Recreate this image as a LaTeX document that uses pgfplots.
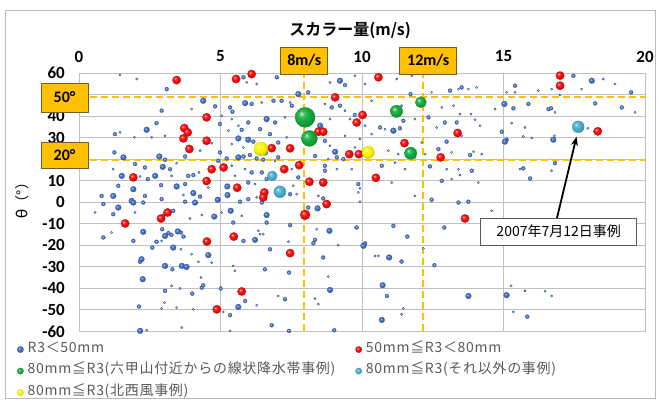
\documentclass[border=0pt]{standalone}
\usepackage{pgfplots}
\pgfplotsset{compat=1.18}
\usepackage{pgfplotstable}
\usetikzlibrary{arrows.meta}
\usepackage{fontspec}
\setmainfont{Carlito}
\newfontfamily\jp{Noto Sans CJK JP}[BoldFont={Noto Sans CJK JP Bold}]
\newfontfamily\jpleg{Noto Sans CJK JP}[LetterSpace=5]

\definecolor{ptblue}{RGB}{60,105,190}
\definecolor{ptred}{RGB}{240,10,10}
\definecolor{ptgreen}{RGB}{20,170,60}
\definecolor{ptyellow}{RGB}{255,245,0}
\definecolor{ptcyan}{RGB}{70,175,205}
\definecolor{guide}{RGB}{255,192,0}
\definecolor{boxedge}{RGB}{110,95,50}
\definecolor{gridc}{RGB}{192,192,192}
\definecolor{legtext}{RGB}{89,89,89}

% softer sphere shading for the bubbles
\makeatletter
\pgfdeclareradialshading[tikz@ball]{ball}{\pgfqpoint{-10bp}{10bp}}{%
  color(0bp)=(tikz@ball!20!white); color(7bp)=(tikz@ball!80!white);
  color(16bp)=(tikz@ball); color(28bp)=(tikz@ball!85!black);
  color(50bp)=(tikz@ball!65!black)}
\makeatother

% x = scalar speed (m/s), y = theta (deg); R3 < 50 mm, by bubble size
\pgfplotstableread{
x y
1.45 59.1
2.04 57.2
5.93 55.6
6.28 54.9
6.46 46.3
3.98 43.2
5.04 40.1
5.40 38.6
5.63 35.5
5.28 33.2
1.45 32.4
1.96 30.1
2.57 30.1
3.04 30.8
5.40 27.0
4.69 27.4
5.81 25.4
4.28 23.9
3.45 18.1
5.40 16.9
1.21 15.3
2.16 11.9
4.24 13.8
3.27 12.2
5.87 15.3
5.51 12.2
4.57 6.8
6.22 8.4
3.69 3.3
6.28 2.2
8.87 55.6
9.75 58.7
10.11 54.9
11.76 58.7
11.23 57.2
12.46 51.0
13.41 52.5
7.46 46.3
8.69 45.6
10.34 47.1
11.40 44.8
12.82 44.0
13.23 44.8
9.58 38.6
9.40 42.5
7.28 39.4
8.87 38.6
10.11 35.5
11.87 38.6
12.64 34.7
10.81 33.9
7.34 30.1
8.87 26.2
9.40 30.8
9.93 29.3
10.34 31.6
12.11 27.7
6.93 19.2
8.81 20.0
9.75 25.4
10.93 23.9
11.28 22.3
11.87 20.8
12.23 22.3
13.17 23.1
7.52 15.3
9.11 15.3
9.64 15.3
11.17 18.4
11.52 15.3
12.99 15.3
13.41 15.3
7.57 7.6
8.22 8.4
9.93 6.4
11.05 9.1
13.17 10.7
7.69 3.7
8.46 2.9
9.87 4.5
11.87 2.9
13.76 52.5
14.05 53.3
15.11 51.0
15.41 51.0
16.23 51.8
16.70 52.5
18.53 57.2
18.94 54.9
17.76 52.5
16.99 49.8
16.82 41.7
19.65 41.7
13.46 40.9
13.85 40.9
14.70 43.2
13.99 38.3
14.17 35.5
15.70 30.5
16.00 29.8
16.80 30.8
15.29 36.7
15.76 34.7
17.98 34.3
13.52 30.8
13.94 23.4
14.23 22.3
13.46 12.6
15.58 15.3
16.70 14.6
14.11 9.1
0.57 -4.8
1.98 -4.8
3.92 -7.6
4.34 -6.0
5.04 -4.8
5.75 -6.4
6.34 -13.3
6.51 -14.9
1.15 -14.1
2.92 -18.0
3.60 -21.9
3.98 -24.2
6.40 -14.9
4.22 -27.7
4.69 -28.1
5.45 -29.6
5.51 -31.9
3.27 -38.9
3.57 -40.1
4.31 -35.0
6.28 -47.9
3.02 -46.7
2.92 -49.4
3.45 -49.0
4.04 -49.8
5.10 -51.0
2.39 -59.5
3.63 -58.3
5.34 -59.8
8.40 -12.6
7.40 -18.4
9.16 -20.0
10.46 -25.0
10.58 -25.0
8.81 -34.6
8.34 -44.8
8.46 -47.4
11.46 -49.4
11.40 -52.1
9.93 0.2
12.17 -21.5
7.04 -43.6
14.58 -4.0
15.27 -38.9
15.76 -41.2
16.47 -41.4
16.70 -43.6
15.35 -51.0
}\lowrainS

\pgfplotstableread{
x y
3.10 52.5
5.81 58.0
4.81 44.5
5.34 44.0
5.42 42.0
6.10 45.6
2.92 42.5
5.98 37.0
2.74 36.7
4.98 36.3
6.40 33.9
5.75 33.6
1.27 31.6
6.16 28.1
4.98 23.1
1.25 23.1
1.98 17.7
3.04 19.7
3.75 21.2
2.33 16.1
3.22 15.3
5.81 21.2
6.04 21.9
6.28 20.3
6.51 19.7
4.92 19.2
5.22 20.3
2.43 10.7
3.86 12.2
4.04 12.6
6.10 13.8
6.46 13.8
1.39 7.6
2.90 7.9
3.75 8.4
5.98 9.1
6.63 10.7
0.80 2.9
2.33 2.9
2.92 1.4
4.28 2.6
5.98 1.4
6.99 58.0
9.40 54.4
8.10 51.0
11.72 50.2
13.11 51.8
6.87 47.1
7.16 47.1
7.52 44.8
8.93 44.0
9.22 44.8
9.75 40.5
6.93 37.0
10.64 34.7
11.34 34.3
11.46 37.8
12.35 39.4
12.93 37.0
13.35 37.0
6.75 31.6
7.04 27.7
8.69 28.5
12.70 24.6
12.99 28.1
7.04 20.8
8.34 21.5
9.11 20.8
9.34 20.0
7.75 11.5
8.69 16.9
8.69 14.6
10.70 16.9
12.40 16.6
9.87 8.4
12.82 9.9
7.46 3.7
8.63 1.7
12.46 1.1
13.52 53.3
15.41 54.1
17.47 58.7
19.51 51.0
15.35 43.6
15.88 45.6
16.59 43.2
16.68 43.6
18.24 45.9
19.18 44.0
14.94 32.7
15.11 29.0
13.82 21.9
13.88 14.6
15.70 15.7
15.94 11.0
16.82 18.1
13.41 -0.2
13.76 0.2
0.86 -0.9
2.27 -0.2
3.75 0.2
5.69 0.2
6.46 -0.2
1.21 -5.6
3.33 -4.0
2.98 -6.4
5.45 -9.5
0.86 -16.4
1.92 -18.0
2.94 -12.6
3.16 -14.4
3.27 -15.2
3.60 -14.1
3.69 -16.0
2.74 -18.4
2.59 -21.1
5.81 -18.0
2.16 -27.7
3.30 -31.2
6.57 -31.2
3.04 -41.2
4.00 -42.5
4.34 -39.7
4.39 -38.6
5.01 -40.1
5.87 -45.9
2.12 -48.5
5.34 -52.5
6.63 -9.5
7.46 -10.7
8.10 -2.5
8.34 -17.5
8.28 -19.1
9.81 -11.8
6.75 -21.9
8.63 -25.7
10.11 -19.1
11.40 -27.6
11.11 -11.0
11.60 -16.0
12.91 -11.8
7.42 -32.7
7.28 -45.1
10.88 -43.6
6.81 -57.2
7.42 -59.8
9.02 -59.5
12.56 -29.3
15.84 -53.2
}\lowrainM

\pgfplotstableread{
x y
4.39 47.1
5.87 46.0
6.63 38.6
2.39 33.6
5.63 29.6
5.98 29.0
1.57 20.8
2.84 21.2
2.96 16.4
5.63 20.8
1.51 12.2
2.69 12.2
1.92 6.0
3.45 7.3
5.24 7.3
1.21 2.9
1.86 0.6
4.04 4.2
4.90 1.1
5.25 3.3
9.22 56.4
7.75 50.2
8.52 35.5
11.11 33.2
6.57 23.1
9.05 23.4
18.12 56.4
15.03 45.6
15.05 28.1
16.76 29.0
1.39 -2.5
1.92 -0.2
4.10 -0.2
5.36 -4.0
6.63 -6.0
4.78 -6.7
2.27 -13.8
3.04 -15.7
3.49 -13.6
3.33 -21.1
6.22 -17.5
2.21 -26.5
3.04 -29.6
3.63 -29.6
3.80 -30.1
4.57 -24.6
2.25 -35.8
5.63 -48.7
2.16 -59.8
8.43 -2.9
8.85 -13.3
10.05 -20.3
10.96 -25.7
8.87 -40.8
10.73 -38.6
10.70 -54.7
13.76 -43.6
15.11 -43.2
}\lowrainL

% 50 mm <= R3 < 80 mm
\pgfplotstableread{
x y
3.45 56.7
5.55 57.2
6.10 59.5
4.51 39.4
3.72 34.4
3.84 32.4
3.69 29.6
4.51 28.5
3.90 24.7
4.69 15.3
5.11 16.1
1.92 11.5
4.51 9.8
5.59 6.7
6.55 4.5
6.51 2.2
10.58 58.0
9.05 48.7
10.02 40.5
9.81 37.0
8.46 32.7
8.63 32.7
6.81 25.1
7.46 25.0
9.55 22.3
9.89 22.3
11.50 27.4
12.78 20.8
13.38 32.1
7.78 17.2
7.25 15.3
10.49 11.3
8.14 9.5
8.63 9.1
8.75 -0.9
17.00 58.8
17.00 54.1
18.33 32.9
3.13 -4.8
2.90 -7.6
1.63 -9.9
4.52 -18.3
5.47 -16.0
5.75 -41.5
4.87 -49.8
7.46 -23.7
13.64 -7.6
}\midrain

\pgfplotsset{
  bub/.style 2 args={only marks, mark=ball, forget plot,
    mark size=#2pt, mark options={ball color=#1, draw=#1!80!black, line width=0.2pt}},
}
\tikzset{
  guidebox/.style={draw=boxedge, fill=guide, line width=0.8pt, inner sep=0pt,
    font=\fontsize{16}{16}\selectfont\bfseries}
}

\begin{document}
\begin{tikzpicture}[x=1pt,y=1pt]
\path[use as bounding box] (0,0) rectangle (657,401);
\draw[gray!55, line width=0.8pt] (5,3) rectangle (655,391);
\begin{axis}[
  at={(79pt,69.7pt)}, anchor=south west,
  width=566pt, height=258.3pt, scale only axis,
  xmin=0, xmax=20, ymin=-60, ymax=60,
  clip=false,
  xtick={0,5,10,15,20},
  ytick={-60,-50,...,60},
  yticklabels={-60,-50,-40,-30,-20,-10,0,10,,30,40,,60},
  xticklabel pos=upper,
  major tick length=0pt,
  grid=major,
  major grid style={gridc, line width=0.8pt},
  axis line style={gridc, line width=0.8pt},
  /pgf/number format/assume math mode=true,
  tick label style={font=\fontsize{17}{17}\selectfont\bfseries, inner sep=0pt},
  xticklabel style={anchor=center, yshift=16.5pt},
  yticklabel style={anchor=east, xshift=-14pt},
  title={\jp\bfseries スカラー量(m/s)},
  every axis title/.style={at={(axis description cs:0.479,1.166)}, anchor=center,
    font=\fontsize{16}{16}\selectfont},
  ylabel={{\fontsize{17}{17}\selectfont θ}{\jp（°）}},
  every axis y label/.style={at={(axis description cs:-0.1007,0.52)}, rotate=90,
    anchor=center, font=\fontsize{14}{14}\selectfont},
  legend columns=2,
  legend cell align=left,
  legend image code/.code={\draw[#1] plot coordinates {(0pt,0pt)};},
  legend style={at={(axis description cs:-0.115,-0.04)}, anchor=north west,
    draw=none, fill=none, text=legtext,
    font=\jpleg\fontsize{14}{14}\selectfont,
    nodes={inner sep=1pt, text height=7.5pt, text depth=2pt},
    row sep=10pt,
    /tikz/every odd column/.style={column sep=3pt},
    /tikz/every even column/.style={column sep=19pt}},
]
% R3 < 50 mm
\addplot[bub={ptblue}{1.2}] table {\lowrainS};
\addplot[bub={ptblue}{2.0}] table {\lowrainM};
\addplot[bub={ptblue}{2.9}] table {\lowrainL};
% 50 mm <= R3 < 80 mm
\addplot[bub={ptred}{4.2}] table {\midrain};
\addplot[bub={ptred}{5.0}] coordinates {(7.99,-5.9)};
% 80 mm <= R3, band of heavy rain from the Rokko area
\addplot[bub={ptgreen}{10}] coordinates {(7.99,39.4)};
\addplot[bub={ptgreen}{8}] coordinates {(8.14,29.6)};
\addplot[bub={ptgreen}{6.2}] coordinates {(11.22,42.2) (11.72,22.7)};
\addplot[bub={ptgreen}{5.6}] coordinates {(12.08,46.4)};
% 80 mm <= R3, other cases
\addplot[bub={ptcyan}{5}] coordinates {(6.83,12.2)};
\addplot[bub={ptcyan}{6}] coordinates {(7.10,4.8) (17.64,35.0)};
% 80 mm <= R3, north-west wind cases
\addplot[bub={ptyellow}{7}] coordinates {(6.43,24.7)};
\addplot[bub={ptyellow}{6.2}] coordinates {(10.22,23.1)};

\addlegendimage{only marks, mark=ball, mark size=3.2pt, mark options={ball color=ptblue, draw=ptblue!80!black, line width=0.2pt}}
\addlegendentry{R3＜50mm}
\addlegendimage{only marks, mark=ball, mark size=3.2pt, mark options={ball color=ptred, draw=ptred!80!black, line width=0.2pt}}
\addlegendentry{50mm≦R3＜80mm}
\addlegendimage{only marks, mark=ball, mark size=3.2pt, mark options={ball color=ptgreen, draw=ptgreen!80!black, line width=0.2pt}}
\addlegendentry{80mm≦R3(六甲山付近からの線状降水帯事例)}
\addlegendimage{only marks, mark=ball, mark size=3.2pt, mark options={ball color=ptcyan, draw=ptcyan!80!black, line width=0.2pt}}
\addlegendentry{80mm≦R3(それ以外の事例)}
\addlegendimage{only marks, mark=ball, mark size=3.2pt, mark options={ball color=ptyellow, draw=ptyellow!80!black, line width=0.2pt}}
\addlegendentry{80mm≦R3(北西風事例)}

% guide lines for the speed and direction thresholds
\draw[guide, line width=2pt, dash pattern=on 7pt off 4pt]
  (axis cs:7.95,-60) -- (axis cs:7.95,60);
\draw[guide, line width=2pt, dash pattern=on 7pt off 4pt]
  (axis cs:12.15,-60) -- (axis cs:12.15,60);
\draw[guide, line width=2pt, dash pattern=on 7pt off 4pt]
  (axis cs:0,49) -- (axis cs:20,49);
\draw[guide, line width=2pt, dash pattern=on 7pt off 4pt]
  (axis cs:0,19.7) -- (axis cs:20,19.7);

\node[guidebox, minimum width=47pt, minimum height=27pt] at (axis cs:7.96,65.8) {8m/s};
\node[guidebox, minimum width=57pt, minimum height=27pt] at (axis cs:12.34,65.8) {12m/s};
\node[guidebox, minimum width=47pt, minimum height=29pt] at (axis cs:-0.51,48.6) {50°};
\node[guidebox, minimum width=47pt, minimum height=26pt] at (axis cs:-0.51,21.9) {20°};

% the 2007-07-12 case callout
\draw[black, line width=1.8pt, -{Stealth[length=9pt,width=7pt]}]
  (axis cs:16.89,-7.4) -- (axis cs:17.58,30.4);
\node[draw=gray!70!black, fill=white, line width=0.8pt, inner sep=0pt,
  minimum width=156pt, minimum height=27pt, font=\jp\fontsize{14}{14}\selectfont]
  at (axis cs:16.95,-13.65) {2007年7月12日事例};
\end{axis}
\end{tikzpicture}
\end{document}
